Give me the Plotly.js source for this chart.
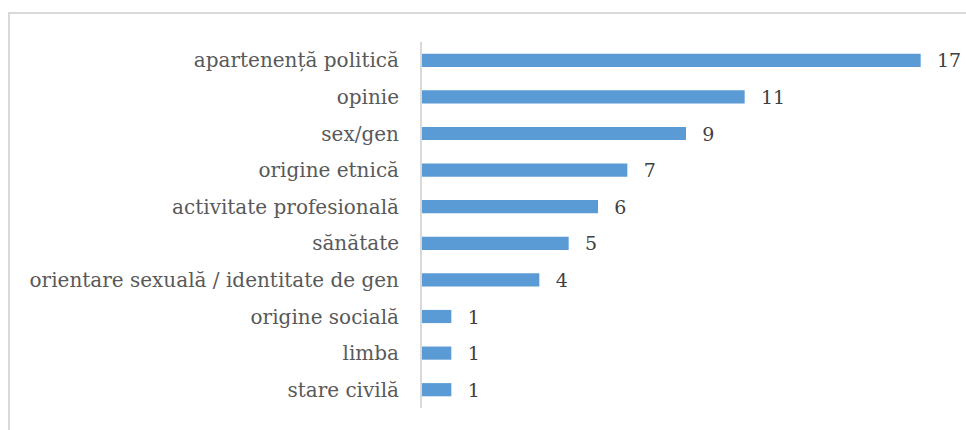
<!DOCTYPE html>
<html><head><meta charset="utf-8">
<script src="https://cdn.plot.ly/plotly-3.0.1.min.js"></script>
<style>html,body{margin:0;padding:0;background:#fff;}</style>
</head><body>
<div id="chart" style="width:966px;height:430px;"></div>
<script>
const categories = ["apartenență politică","opinie","sex/gen","origine etnică","activitate profesională","sănătate","orientare sexuală / identitate de gen","origine socială","limba","stare civilă"];
const values = [17, 11, 9, 7, 6, 5, 4, 1, 1, 1];

const trace = {
  type: 'bar',
  orientation: 'h',
  y: categories,
  x: values,
  marker: {color: '#5b9bd5'},
  text: values.map(v => '\u2002\u2009' + v),
  textposition: 'outside',
  constraintext: 'none',
  cliponaxis: false,
  textfont: {family: 'DejaVu Serif', size: 19, color: '#404040'},
  hoverinfo: 'none'
};

const layout = {
  width: 966, height: 430,
  margin: {l: 422, r: 16, t: 42, b: 22},
  paper_bgcolor: '#ffffff', plot_bgcolor: '#ffffff',
  bargap: 0.64,
  showlegend: false,
  font: {family: 'DejaVu Serif', color: '#595959'},
  xaxis: {range: [0, 18], visible: false, fixedrange: true},
  yaxis: {
    autorange: 'reversed', showline: true, linecolor: '#d9d9d9', linewidth: 2,
    showgrid: false, ticks: '', ticklabelstandoff: 17,
    tickfont: {family: 'DejaVu Serif', size: 20, color: '#595959'}
  },
  shapes: [{
    type: 'rect', xref: 'paper', yref: 'paper',
    x0: -413/528, x1: 1.2, y0: (430-22-13)/366, y1: -0.3,
    line: {color: '#d9d9d9', width: 2}, fillcolor: 'rgba(0,0,0,0)', layer: 'below'
  }]
};
Plotly.newPlot('chart', [trace], layout, {staticPlot: true, displayModeBar: false});
</script>
</body></html>
